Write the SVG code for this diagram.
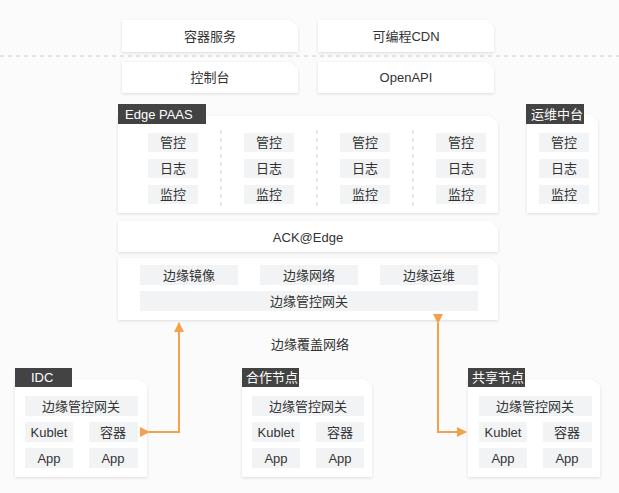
<svg xmlns="http://www.w3.org/2000/svg" width="619" height="493" viewBox="0 0 619 493">
<defs>
<filter id="sh" x="-10%" y="-10%" width="120%" height="130%"><feDropShadow dx="0" dy="1" stdDeviation="1.5" flood-color="#000" flood-opacity="0.12"/></filter>
<marker id="ah" viewBox="0 0 10 10" refX="9" refY="5" markerWidth="5" markerHeight="5" orient="auto"><path d="M0,0 L10,5 L0,10 z" fill="#f5a04a"/></marker>
</defs>
<style>
.b{fill:#fff;filter:url(#sh)}
.i{fill:#f2f3f5}
.t{font-family:"Liberation Sans","Noto Sans CJK SC",sans-serif;font-size:13px;fill:#333;text-anchor:middle;dominant-baseline:central}
.tg{fill:#434343}
.tt{font-family:"Liberation Sans","Noto Sans CJK SC",sans-serif;font-size:13px;fill:#fff;dominant-baseline:central}
.d{stroke:#ccc;stroke-dasharray:4 4;stroke-width:1}
.a{fill:none;stroke:#f5a04a;stroke-width:2}
</style>
<rect width="619" height="493" fill="#fbfbfb"/>
<line class="d" x1="0" y1="56" x2="619" y2="56"/>
<g id="n-rqfw"><path class="b" d="M122,20 H290 L298,27 V52 H122 Z"/><text class="t" x="210" y="36">容器服务</text></g>
<g id="n-cdn"><path class="b" d="M318,20 H486 L494,27 V52 H318 Z"/><text class="t" x="406" y="36">可编程CDN</text></g>
<g id="n-kzt"><path class="b" d="M122,62 H290 L298,69 V93 H122 Z"/><text class="t" x="210" y="77">控制台</text></g>
<g id="n-api"><path class="b" d="M318,62 H486 L494,69 V93 H318 Z"/><text class="t" x="406" y="77">OpenAPI</text></g>
<g id="n-paas">
<path class="b" d="M118,116 H490 L498,123 V213 H118 Z"/>
<rect class="tg" x="118" y="104" width="88" height="20"/><text class="tt" x="125" y="114">Edge PAAS</text>
<line class="d" x1="221" y1="130" x2="221" y2="208"/><line class="d" x1="317" y1="130" x2="317" y2="208"/><line class="d" x1="413" y1="130" x2="413" y2="208"/>
<g id="c1"><rect class="i" x="148" y="133" width="50" height="19"/><text class="t" x="173" y="142.5">管控</text><rect class="i" x="148" y="159" width="50" height="19"/><text class="t" x="173" y="168.5">日志</text><rect class="i" x="148" y="185" width="50" height="19"/><text class="t" x="173" y="194.5">监控</text></g>
<g id="c2"><rect class="i" x="244" y="133" width="50" height="19"/><text class="t" x="269" y="142.5">管控</text><rect class="i" x="244" y="159" width="50" height="19"/><text class="t" x="269" y="168.5">日志</text><rect class="i" x="244" y="185" width="50" height="19"/><text class="t" x="269" y="194.5">监控</text></g>
<g id="c3"><rect class="i" x="340" y="133" width="50" height="19"/><text class="t" x="365" y="142.5">管控</text><rect class="i" x="340" y="159" width="50" height="19"/><text class="t" x="365" y="168.5">日志</text><rect class="i" x="340" y="185" width="50" height="19"/><text class="t" x="365" y="194.5">监控</text></g>
<g id="c4"><rect class="i" x="436" y="133" width="50" height="19"/><text class="t" x="461" y="142.5">管控</text><rect class="i" x="436" y="159" width="50" height="19"/><text class="t" x="461" y="168.5">日志</text><rect class="i" x="436" y="185" width="50" height="19"/><text class="t" x="461" y="194.5">监控</text></g>
</g>
<g id="n-ops">
<path class="b" d="M527,114 H590 L598,121 V213 H527 Z"/>
<rect class="tg" x="526" y="104" width="58" height="20"/><text class="tt" x="531" y="114">运维中台</text>
<rect class="i" x="539" y="133" width="50" height="19"/><text class="t" x="564" y="142.5">管控</text><rect class="i" x="539" y="159" width="50" height="19"/><text class="t" x="564" y="168.5">日志</text><rect class="i" x="539" y="185" width="50" height="19"/><text class="t" x="564" y="194.5">监控</text>
</g>
<g id="n-ack"><path class="b" d="M118,221 H490 L498,228 V252 H118 Z"/><text class="t" x="308" y="237">ACK@Edge</text></g>
<g id="n-edge">
<path class="b" d="M118,258 H490 L498,265 V320 H118 Z"/>
<rect class="i" x="140" y="265" width="98" height="20"/><text class="t" x="189" y="275">边缘镜像</text>
<rect class="i" x="260" y="265" width="98" height="20"/><text class="t" x="309" y="275">边缘网络</text>
<rect class="i" x="380" y="265" width="98" height="20"/><text class="t" x="429" y="275">边缘运维</text>
<rect class="i" x="140" y="291" width="338" height="20"/><text class="t" x="309" y="301">边缘管控网关</text>
</g>
<text class="t" x="310" y="344">边缘覆盖网络</text>
<g id="n-idc">
<path class="b" d="M15,379 H139 L147,386 V477 H15 Z"/>
<rect class="tg" x="15" y="368" width="57" height="19"/><text class="tt" x="31" y="377.5">IDC</text>
<rect class="i" x="25" y="396" width="113" height="20"/><text class="t" x="81" y="406">边缘管控网关</text>
<rect class="i" x="25" y="422" width="48" height="20"/><text class="t" x="49" y="432">Kublet</text>
<rect class="i" x="89" y="422" width="49" height="20"/><text class="t" x="113" y="432">容器</text>
<rect class="i" x="25" y="448" width="48" height="20"/><text class="t" x="49" y="458">App</text>
<rect class="i" x="89" y="448" width="49" height="20"/><text class="t" x="113" y="458">App</text>
</g>
<g id="n-hz">
<path class="b" d="M242,379 H364 L372,386 V477 H242 Z"/>
<rect class="tg" x="242" y="368" width="57" height="19"/><text class="tt" x="246" y="377.5">合作节点</text>
<rect class="i" x="252" y="396" width="112" height="20"/><text class="t" x="308" y="406">边缘管控网关</text>
<rect class="i" x="252" y="422" width="48" height="20"/><text class="t" x="276" y="432">Kublet</text>
<rect class="i" x="316" y="422" width="48" height="20"/><text class="t" x="340" y="432">容器</text>
<rect class="i" x="252" y="448" width="48" height="20"/><text class="t" x="276" y="458">App</text>
<rect class="i" x="316" y="448" width="48" height="20"/><text class="t" x="340" y="458">App</text>
</g>
<g id="n-gx">
<path class="b" d="M468,379 H592 L600,386 V477 H468 Z"/>
<rect class="tg" x="468" y="368" width="57" height="19"/><text class="tt" x="472" y="377.5">共享节点</text>
<rect class="i" x="479" y="396" width="113" height="20"/><text class="t" x="535" y="406">边缘管控网关</text>
<rect class="i" x="479" y="422" width="48" height="20"/><text class="t" x="503" y="432">Kublet</text>
<rect class="i" x="543" y="422" width="49" height="20"/><text class="t" x="567" y="432">容器</text>
<rect class="i" x="479" y="448" width="48" height="20"/><text class="t" x="503" y="458">App</text>
<rect class="i" x="543" y="448" width="49" height="20"/><text class="t" x="567" y="458">App</text>
</g>
<g id="connectors">
<path class="a" d="M149,432 H179 V323" marker-start="url(#ah)" marker-end="url(#ah)"/>
<path class="a" d="M438,323 V432 H466" marker-start="url(#ah)" marker-end="url(#ah)"/>
</g>
</svg>
